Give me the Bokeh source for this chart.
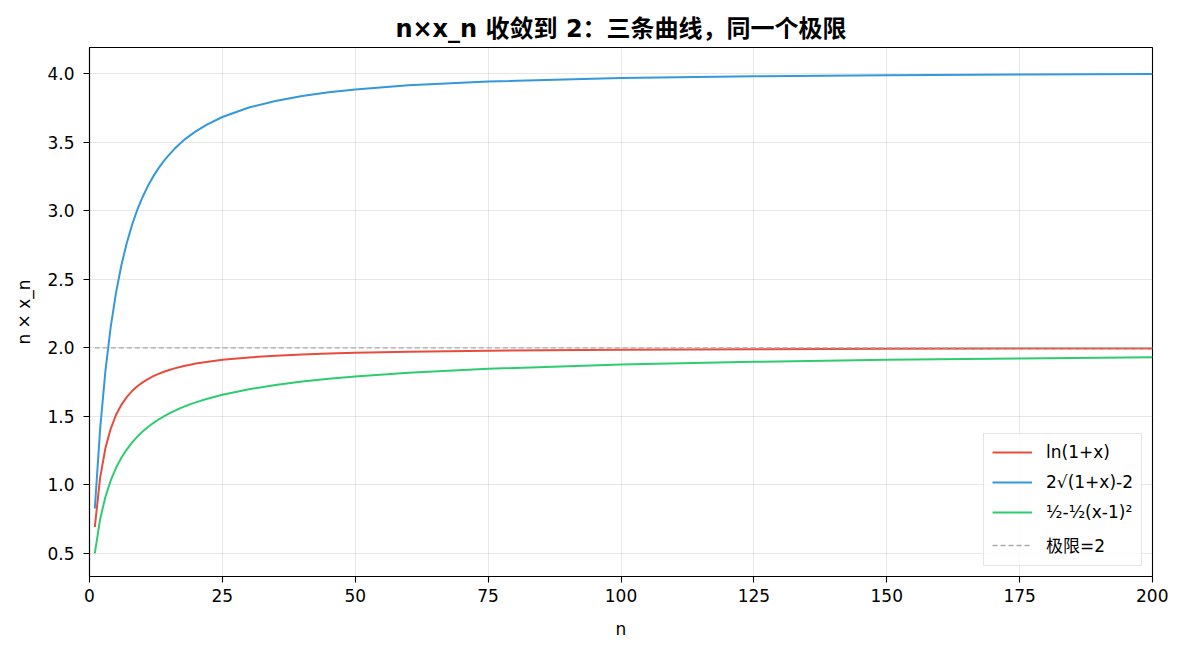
from bokeh.plotting import figure
from bokeh.models import FixedTicker, PrintfTickFormatter, Range1d, Legend, LegendItem
from bokeh.embed import file_html
from bokeh.resources import INLINE

# ---- data ----
n_vals = [1, 2, 3, 4, 5, 6, 7, 8, 9, 10, 11, 12, 13, 14, 15, 16, 17, 18, 19, 20,
          22, 25, 30, 35, 40, 45, 50, 60, 75, 100, 125, 150, 175, 200]
ln_vals = [0.693, 1.053, 1.269, 1.411, 1.511, 1.584, 1.640, 1.684, 1.719, 1.748,
           1.772, 1.793, 1.810, 1.825, 1.838, 1.850, 1.860, 1.869, 1.877, 1.885,
           1.897, 1.912, 1.930, 1.942, 1.951, 1.958, 1.964, 1.972, 1.979, 1.986,
           1.990, 1.993, 1.994, 1.995]
sqrt_vals = [0.828, 1.409, 1.833, 2.154, 2.404, 2.602, 2.763, 2.896, 3.007, 3.100,
             3.181, 3.250, 3.310, 3.363, 3.409, 3.451, 3.488, 3.522, 3.551, 3.578,
             3.626, 3.683, 3.752, 3.800, 3.836, 3.863, 3.883, 3.914, 3.942, 3.967,
             3.980, 3.988, 3.993, 3.996]
quad_vals = [0.500, 0.750, 0.914, 1.033, 1.125, 1.198, 1.258, 1.308, 1.352, 1.389,
             1.422, 1.451, 1.477, 1.500, 1.521, 1.540, 1.558, 1.574, 1.589, 1.602,
             1.627, 1.657, 1.698, 1.729, 1.754, 1.774, 1.791, 1.818, 1.847, 1.878,
             1.898, 1.912, 1.922, 1.931]
limit_x = [1, 200]
limit_y = [2, 2]
series_labels = ["ln(1+x)", "2√(1+x)-2", "½-½(x-1)²", "极限=2"]
x_ticks = [0, 25, 50, 75, 100, 125, 150, 175, 200]
y_ticks = [0.5, 1.0, 1.5, 2.0, 2.5, 3.0, 3.5, 4.0]
title_text = "n×x_n 收敛到 2：三条曲线，同一个极限"
x_label = "n"
y_label = "n × x_n"

FONT = "DejaVu Sans, Noto Sans CJK SC"

p = figure(width=1168, height=643, output_backend="svg", toolbar_location=None,
           x_range=Range1d(0, 200), y_range=Range1d(0.332, 4.19),
           min_border_left=89, min_border_right=16, min_border_top=47,
           min_border_bottom=67, title=title_text)

p.title.text_font = FONT
p.title.text_font_size = "24px"
p.title.text_font_style = "bold"
p.title.align = "center"
p.title.text_color = "black"
p.title.offset = 0

p.outline_line_color = "black"
p.outline_line_width = 1.1
p.background_fill_color = "white"
p.border_fill_color = "white"

for ax in (p.xaxis[0], p.yaxis[0]):
    ax.axis_line_color = "black"
    ax.axis_line_width = 1.1
    ax.major_tick_line_color = "black"
    ax.major_tick_line_width = 1.1
    ax.major_tick_out = 6
    ax.major_tick_in = 0
    ax.minor_tick_out = 0
    ax.minor_tick_in = 0
    ax.major_label_text_font = FONT
    ax.major_label_text_font_size = "17px"
    ax.major_label_text_color = "black"
    ax.axis_label_text_font = FONT
    ax.axis_label_text_font_size = "17px"
    ax.axis_label_text_font_style = "normal"
    ax.axis_label_text_color = "black"

p.xaxis[0].ticker = FixedTicker(ticks=x_ticks)
p.yaxis[0].ticker = FixedTicker(ticks=y_ticks)
p.yaxis[0].formatter = PrintfTickFormatter(format="%.1f")
p.xaxis[0].axis_label = x_label
p.yaxis[0].axis_label = y_label
p.xaxis[0].major_label_standoff = 6
p.yaxis[0].major_label_standoff = 9
p.xaxis[0].axis_label_standoff = 14
p.yaxis[0].axis_label_standoff = 10

p.xgrid.ticker = FixedTicker(ticks=x_ticks)
p.ygrid.ticker = FixedTicker(ticks=y_ticks)
for g in (p.xgrid[0], p.ygrid[0]):
    g.grid_line_color = "#b0b0b0"
    g.grid_line_alpha = 0.3
    g.grid_line_width = 1

r1 = p.line(n_vals, ln_vals, line_color="#e74c3c", line_width=2)
r2 = p.line(n_vals, sqrt_vals, line_color="#3498db", line_width=2)
r3 = p.line(n_vals, quad_vals, line_color="#2ecc71", line_width=2)
r4 = p.line(limit_x, limit_y, line_color="#aaaaaa", line_width=1.3, line_dash="5 3")

legend = Legend(items=[LegendItem(label=series_labels[0], renderers=[r1]),
                       LegendItem(label=series_labels[1], renderers=[r2]),
                       LegendItem(label=series_labels[2], renderers=[r3]),
                       LegendItem(label=series_labels[3], renderers=[r4])],
                location="bottom_right")
legend.label_text_font = FONT
legend.label_text_font_size = "17px"
legend.label_text_color = "black"
legend.glyph_width = 40
legend.glyph_height = 20
legend.label_height = 20
legend.spacing = 10
legend.padding = 8
legend.margin = 10
legend.label_standoff = 14
legend.border_line_color = "#cccccc"
legend.border_line_width = 1
legend.background_fill_alpha = 0.8
p.add_layout(legend)

open("out.html", "w").write(file_html(p, INLINE))
